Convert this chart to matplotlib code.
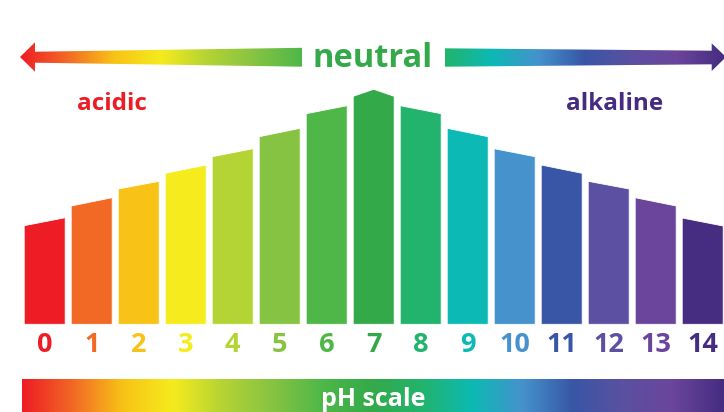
import numpy as np
import matplotlib
matplotlib.use("Agg")
from matplotlib import pyplot as plt
from matplotlib.colors import LinearSegmentedColormap
from matplotlib.patches import Polygon

plt.rcParams['font.family'] = ['Open Sans', 'DejaVu Sans']

# pH categories and the colour used for each one
ph_values = list(range(15))
ph_colors = ['#EE1D25', '#F26925', '#F8C316', '#F5EB1D', '#B4D334',
             '#86C342', '#4EB748', '#34A94A', '#22B46D', '#0CB9B4',
             '#4592CD', '#3856A5', '#5B50A1', '#6A459B', '#462D81']

# height of each bar at its left and right edge (sloped tops)
top_left = [98.6, 118.3, 135.3, 151.0, 167.6, 187.6, 210.6, 228.0,
            218.6, 196.0, 175.6, 159.3, 143.0, 126.6, 106.3]
top_right = [106.6, 126.6, 143.0, 159.3, 175.6, 196.0, 218.6, 228.0,
             210.6, 187.6, 167.6, 151.0, 135.3, 118.3, 98.3]
neutral_peak = 235.0
NEUTRAL = 7

BAR_WIDTH = 0.872
W, H = 724, 412

fig = plt.figure(figsize=(W / 100, H / 100), dpi=100)
fig.patch.set_facecolor('white')

# axes for the bars, x in pH units
ax = fig.add_axes([0, 0, 1, 1])
ax.set_xlim(-44.7 / 47, (W - 44.7) / 47)
ax.set_ylim(324.3 - H, 324.3)
ax.axis('off')

# overlay in pixel units for arrows, titles and the scale strip
deco = fig.add_axes([0, 0, 1, 1], facecolor='none')
deco.set_xlim(0, W)
deco.set_ylim(H, 0)
deco.axis('off')

half = BAR_WIDTH / 2
for ph, left, right, color in zip(ph_values, top_left, top_right, ph_colors):
    pts = [(ph - half, 0), (ph - half, left)]
    if ph == NEUTRAL:
        pts.append((ph, neutral_peak))
    pts += [(ph + half, right), (ph + half, 0)]
    ax.add_patch(Polygon(pts, closed=True, facecolor=color, edgecolor='white', linewidth=0.6))
    ax.text(ph, 324.3 - 351.7, str(ph), ha='center', va='baseline',
            fontsize=19.5, fontweight='bold', color=color)


def gradient_fill(axis, colors, x0, x1, y0, y1, clip=None):
    cmap = LinearSegmentedColormap.from_list('ph', colors)
    grad = np.linspace(0, 1, 512).reshape(1, -1)
    im = axis.imshow(grad, cmap=cmap, aspect='auto', extent=[x0, x1, y1, y0],
                     interpolation='bilinear', zorder=2)
    if clip is not None:
        axis.add_patch(clip)
        im.set_clip_path(clip)
    return im


# left arrow (acidic side)
left_arrow = Polygon([(20, 57), (35, 42.3), (35, 51.7), (302, 47.8), (302, 66.7),
                      (35, 62.7), (35, 71.7)], closed=True, facecolor='none', edgecolor='none')
gradient_fill(deco, ph_colors[:7], 20, 302, 40, 74, left_arrow)

# right arrow (alkaline side)
right_arrow = Polygon([(445, 48.3), (711.7, 50.7), (711.7, 43.3), (726, 57), (711.7, 71),
                       (711.7, 64.3), (445, 66.7)], closed=True, facecolor='none', edgecolor='none')
gradient_fill(deco, ph_colors[8:], 445, 724, 40, 74, right_arrow)

deco.text(372.5, 66.7, 'neutral', ha='center', va='baseline', fontsize=23.5,
          fontweight='bold', color='#34A94A')
deco.text(111.5, 110, 'acidic', ha='center', va='baseline', fontsize=17.5,
          fontweight='bold', color='#EE1D25')
deco.text(614.5, 110, 'alkaline', ha='center', va='baseline', fontsize=17.5,
          fontweight='bold', color='#452C80')

# scale strip along the bottom
gradient_fill(deco, ph_colors, 22, 724, 379.3, 412)
deco.text(373, 406, 'pH scale', ha='center', va='baseline', fontsize=18,
          fontweight='bold', color='white', zorder=3)

fig.savefig('out.png', dpi=100, facecolor='white')
